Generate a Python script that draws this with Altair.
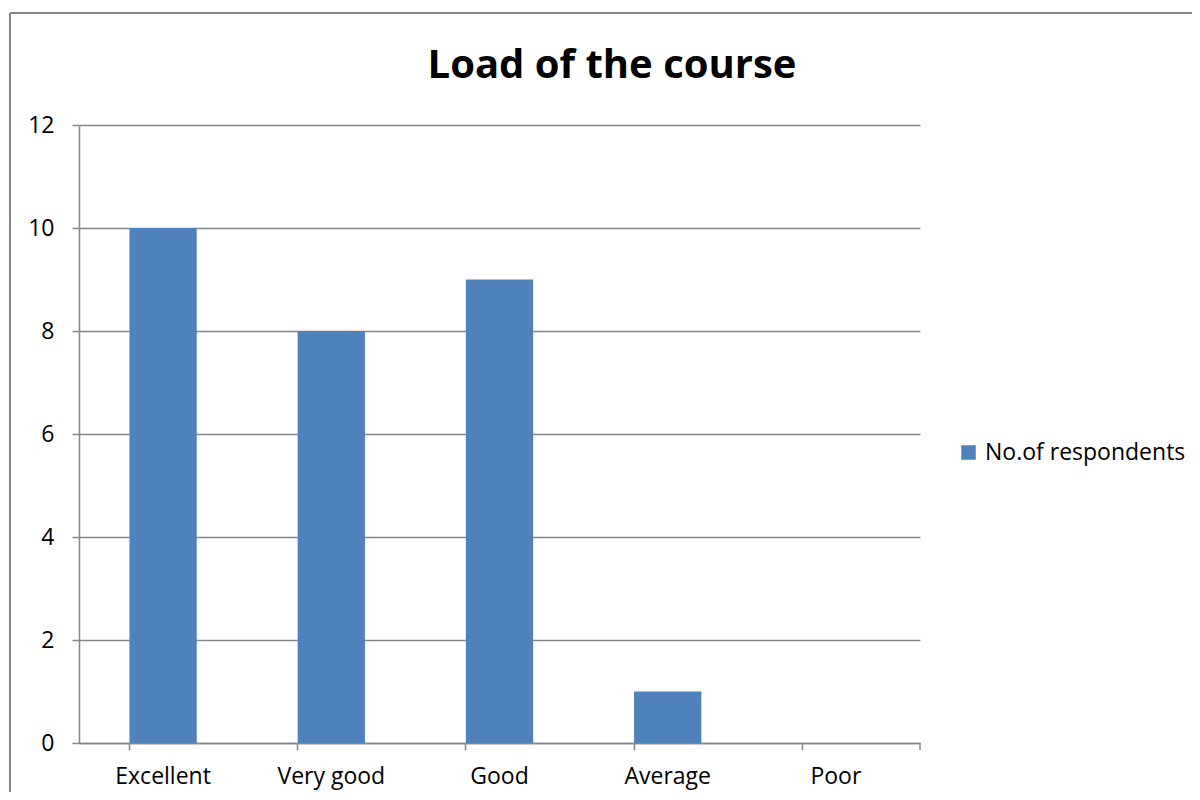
import altair as alt
import pandas as pd

categories = ["Excellent", "Very good", "Good", "Average", "Poor"]
values = [10, 8, 9, 1, 0]
series_name = "No.of respondents"
y_ticks = [0, 2, 4, 6, 8, 10, 12]
title_text = "Load of the course"

df = pd.DataFrame({"category": categories, "value": values, "series": [series_name] * len(categories)})

W, H = 841, 618
GRAY = "#868686"
FONT = "Open Sans"

bars = alt.Chart(df).mark_bar(color="#4F81BD").encode(
    x=alt.X("category:N", sort=categories, title=None,
            scale=alt.Scale(paddingInner=0.6, paddingOuter=0.3),
            axis=alt.Axis(labelAngle=0, bandPosition=0, tickSize=7, tickColor=GRAY,
                          tickWidth=1.5, domainColor=GRAY, domainWidth=1.5,
                          labelFontSize=23, labelFont=FONT, labelColor="black",
                          labelPadding=15, grid=False)),
    y=alt.Y("value:Q", title=None,
            scale=alt.Scale(domain=[0, 12], nice=False),
            axis=alt.Axis(values=y_ticks, tickSize=7, tickColor=GRAY, tickWidth=1.5,
                          domainColor=GRAY, domainWidth=1.5, gridColor=GRAY,
                          gridWidth=1.5, grid=True, labelFontSize=23, labelFont=FONT,
                          labelColor="black", labelPadding=18)),
    color=alt.Color("series:N", title=None,
                    scale=alt.Scale(range=["#4F81BD"]),
                    legend=alt.Legend(orient="none", legendX=878, legendY=316,
                                      symbolType="square", symbolSize=210,
                                      symbolStrokeWidth=0, labelFontSize=23,
                                      labelFont=FONT, labelColor="black",
                                      labelOffset=5, labelLimit=0)),
)

one = alt.Data(values=[{"a": 1}])
end_tick = alt.Chart(one).mark_rule(color=GRAY, strokeWidth=1.5).encode(
    x=alt.value(W), y=alt.value(H), y2=alt.value(H + 7))
frame_left = alt.Chart(one).mark_rule(color=GRAY, strokeWidth=2).encode(
    x=alt.value(-69), y=alt.value(-112), y2=alt.value(700))
frame_top = alt.Chart(one).mark_rule(color=GRAY, strokeWidth=2).encode(
    x=alt.value(-69), x2=alt.value(1150), y=alt.value(-112))
title = alt.Chart(one).mark_text(
    text=title_text, font=FONT, fontSize=40, fontWeight="bold", color="black",
    align="center", baseline="alphabetic").encode(
    x=alt.value(533), y=alt.value(-47))

chart = alt.layer(bars, end_tick, frame_left, frame_top, title).properties(
    width=W, height=H,
    autosize=alt.AutoSizeParams(type="none"),
    padding={"left": 71, "top": 117, "right": 272, "bottom": 49},
).configure_view(stroke=None)

chart.save("out.html", embed_options={"renderer": "svg", "actions": False})
